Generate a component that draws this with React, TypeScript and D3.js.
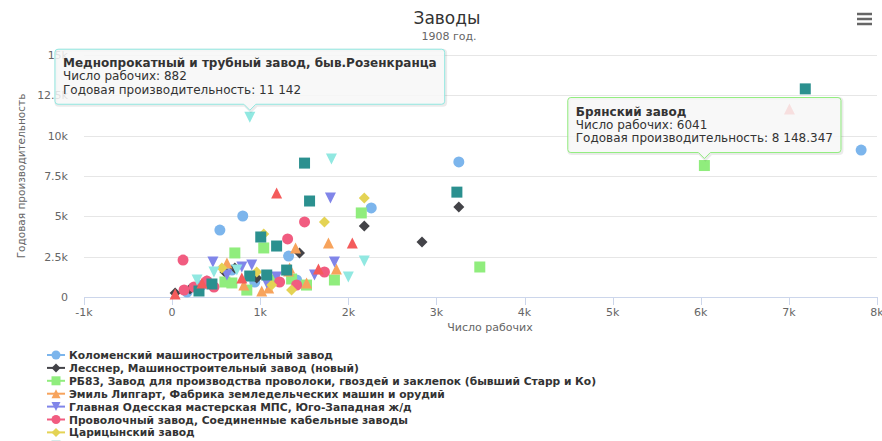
import React, { useEffect, useRef } from 'react';
import * as d3 from 'd3';

// series names (legend shows them in this order)
const seriesNames = [
  'Коломенский машиностроительный завод',
  'Лесснер, Машиностроительный завод (новый)',
  'РБ83, Завод для производства проволоки, гвоздей и заклепок (бывший Старр и Ко)',
  'Эмиль Липгарт, Фабрика земледельческих машин и орудий',
  'Главная Одесская мастерская МПС, Юго-Западная ж/д',
  'Проволочный завод, Соединенные кабельные заводы',
  'Царицынский завод',
  '—',
  '—',
  'Меднопрокатный и трубный завод, быв.Розенкранца',
  'Брянский завод',
];

// [число рабочих, годовая производительность]
const kolomna: [number, number][] = [
  [802, 5020], [542, 4150], [2260, 5520], [1322, 2540], [3254, 8370],
  [7820, 9110], [678, 1670], [339, 744], [938, 930], [1413, 1054], [170, 310],
];
const lessner: [number, number][] = [
  [2181, 4400], [2836, 3410], [3254, 5580], [1446, 2730], [599, 1550],
  [34, 248], [395, 990], [960, 1180], [203, 500], [712, 1800],
];
const rb83: [number, number][] = [
  [2147, 5210], [1040, 3040], [712, 2730], [1842, 1054], [1356, 1116],
  [3492, 1860], [678, 870], [1153, 1054], [599, 930], [848, 430], [1525, 740],
];
const lipgart: [number, number][] = [
  [1774, 3350], [1401, 3040], [1322, 1610], [1864, 1735], [622, 2100],
  [1096, 560], [1334, 1800], [814, 744], [1017, 370], [1526, 870],
];
const odessa: [number, number][] = [
  [1797, 6140], [463, 2170], [1842, 2170], [791, 1860], [1616, 1364],
  [904, 1984], [622, 1364], [1187, 1240], [283, 434], [1074, 868],
];
const provolochny: [number, number][] = [
  [1503, 4650], [1311, 3600], [124, 2290], [1729, 1550], [1220, 930],
  [136, 434], [249, 620], [475, 620], [395, 990], [1413, 744],
];
const tsaritsyn: [number, number][] = [
  [2181, 6140], [1729, 4650], [1040, 3900], [565, 1800], [960, 1550],
  [1356, 430], [1130, 744],
];
const series8: [number, number][] = [
  [1503, 8300], [1560, 5950], [1006, 3720], [1186, 3160], [3232, 6500],
  [7186, 12900], [305, 372], [881, 1300], [1074, 1364], [452, 806], [1300, 1670],
];
const series9: [number, number][] = [
  [1186, 6450], [2045, 3350], [1661, 1735], [7006, 11660], [339, 870],
  [791, 1178], [34, 186],
];
const mednoprokatny: [number, number][] = [
  [882, 11142], [1808, 8560], [2181, 2230], [2000, 1240], [475, 1550],
  [283, 1054], [735, 1674],
];
const bryansk: [number, number][] = [[6041, 8148.347]];

const seriesData = [
  kolomna, lessner, rb83, lipgart, odessa, provolochny, tsaritsyn,
  series8, series9, mednoprokatny, bryansk,
];
// Highcharts series index (colour and symbol cycle from it)
const seriesSlots = [0, 1, 2, 3, 4, 5, 6, 7, 8, 9, 12];

const palette = [
  '#7cb5ec', '#434348', '#90ed7d', '#f7a35c', '#8085e9',
  '#f15c80', '#e4d354', '#2b908f', '#f45b5b', '#91e8e1',
];
const symbolNames = ['circle', 'diamond', 'square', 'triangle', 'triangle-down'];

const xTicks = [-1000, 0, 1000, 2000, 3000, 4000, 5000, 6000, 7000, 8000];
const yTicks = [0, 2500, 5000, 7500, 10000, 12500, 15000];

// tooltips shown: [series index, point index]
const shownTooltips: [number, number][] = [[9, 0], [10, 0]];

const FONT = '"DejaVu Sans", sans-serif';

function markerPath(sym: string, r: number) {
  switch (sym) {
    case 'circle':
      return `M${-r},0a${r},${r} 0 1,0 ${2 * r},0a${r},${r} 0 1,0 ${-2 * r},0Z`;
    case 'square':
      return `M${-r},${-r}h${2 * r}v${2 * r}h${-2 * r}Z`;
    case 'diamond':
      return `M0,${-r}L${r},0L0,${r}L${-r},0Z`;
    case 'triangle':
      return `M0,${-r}L${r},${r}L${-r},${r}Z`;
    default:
      return `M${-r},${-r}L${r},${-r}L0,${r}Z`;
  }
}

const kFormat = (v: number) => (v === 0 ? '0' : `${v / 1000}k`);
const numFormat = (v: number) => d3.format(',')(v).replace(/,/g, ' ');

const App: React.FC = () => {
  const svgRef = useRef<SVGSVGElement>(null);

  useEffect(() => {
    if (!svgRef.current) return;
    const svg = d3.select(svgRef.current);
    svg.selectAll('*').remove();

    const plot = { left: 84, right: 877, top: 55, bottom: 297 };
    const x = d3.scaleLinear().domain([-1000, 8000]).range([plot.left, plot.right]);
    const y = d3.scaleLinear().domain([0, 15000]).range([plot.bottom, plot.top]);

    // title
    svg.append('text')
      .attr('x', 447).attr('y', 24)
      .attr('text-anchor', 'middle')
      .style('font-family', FONT).style('font-size', '17px').style('fill', '#333')
      .text('Заводы');
    svg.append('text')
      .attr('x', 449).attr('y', 40)
      .attr('text-anchor', 'middle')
      .style('font-family', FONT).style('font-size', '11px').style('fill', '#666')
      .text('1908 год.');

    // menu button
    const menu = svg.append('g').attr('transform', 'translate(857, 13)');
    [0, 5, 10].forEach(dy => {
      menu.append('line')
        .attr('x1', 0).attr('x2', 15).attr('y1', dy + 1).attr('y2', dy + 1)
        .attr('stroke', '#666').attr('stroke-width', 2.5);
    });

    // grid
    yTicks.forEach(t => {
      svg.append('line')
        .attr('x1', plot.left).attr('x2', plot.right)
        .attr('y1', Math.round(y(t)) + 0.5).attr('y2', Math.round(y(t)) + 0.5)
        .attr('stroke', '#e6e6e6');
      svg.append('text')
        .attr('x', 68).attr('y', y(t) + 4)
        .attr('text-anchor', 'end')
        .style('font-family', FONT).style('font-size', '11px').style('fill', '#666')
        .text(kFormat(t));
    });

    // x axis
    svg.append('line')
      .attr('x1', plot.left).attr('x2', plot.right)
      .attr('y1', plot.bottom + 0.5).attr('y2', plot.bottom + 0.5)
      .attr('stroke', '#ccd6eb');
    xTicks.forEach(t => {
      svg.append('line')
        .attr('x1', Math.round(x(t)) + 0.5).attr('x2', Math.round(x(t)) + 0.5)
        .attr('y1', plot.bottom).attr('y2', plot.bottom + 8)
        .attr('stroke', '#ccd6eb');
      svg.append('text')
        .attr('x', x(t)).attr('y', 316)
        .attr('text-anchor', 'middle')
        .style('font-family', FONT).style('font-size', '11px').style('fill', '#666')
        .text(kFormat(t));
    });

    // axis titles
    svg.append('text')
      .attr('x', 490).attr('y', 331)
      .attr('text-anchor', 'middle')
      .style('font-family', FONT).style('font-size', '11px').style('fill', '#666')
      .text('Число рабочих');
    svg.append('text')
      .attr('transform', `translate(25, ${(plot.top + plot.bottom) / 2}) rotate(-90)`)
      .attr('text-anchor', 'middle')
      .style('font-family', FONT).style('font-size', '10.5px').style('fill', '#666')
      .text('Годовая производительность');

    // points
    const r = 5.5;
    seriesData.forEach((pts, i) => {
      const slot = seriesSlots[i];
      const color = palette[slot % palette.length];
      const sym = symbolNames[slot % symbolNames.length];
      const g = svg.append('g');
      pts.forEach(([vx, vy]) => {
        g.append('path')
          .attr('transform', `translate(${x(vx)}, ${y(vy)})`)
          .attr('d', markerPath(sym, r))
          .attr('fill', color);
      });
    });

    // legend
    seriesNames.forEach((name, i) => {
      const slot = seriesSlots[i];
      const color = palette[slot % palette.length];
      const sym = symbolNames[slot % symbolNames.length];
      const cy = 355 + i * 12.9;
      const g = svg.append('g');
      g.append('line')
        .attr('x1', 47).attr('x2', 65).attr('y1', cy).attr('y2', cy)
        .attr('stroke', color).attr('stroke-width', 2);
      g.append('path')
        .attr('transform', `translate(56, ${cy})`)
        .attr('d', markerPath(sym, 4.5))
        .attr('fill', color);
      g.append('text')
        .attr('x', 69).attr('y', cy + 4)
        .style('font-family', FONT).style('font-size', '10.7px')
        .style('font-weight', 'bold').style('fill', '#333')
        .text(name);
    });

    // tooltips
    shownTooltips.forEach(([si, pi]) => {
      const slot = seriesSlots[si];
      const color = palette[slot % palette.length];
      const [vx, vy] = seriesData[si][pi];
      const px = x(vx);
      const py = y(vy);
      const g = svg.append('g');
      const shadow = g.append('path');
      const box = g.append('path');
      const lines = [
        { t: seriesNames[si], bold: true },
        { t: `Число рабочих: ${vx}`, bold: false },
        { t: `Годовая производительность: ${numFormat(vy)}`, bold: false },
      ];
      const texts = lines.map(l =>
        g.append('text')
          .attr('y', 0)
          .style('font-family', FONT).style('font-size', '12px')
          .style('font-weight', l.bold ? 'bold' : 'normal')
          .style('fill', '#333')
          .text(l.t)
      );
      const w = Math.max(...texts.map(t => (t.node() as SVGTextElement).getComputedTextLength())) + 16;
      const h = 55;
      const bx = px - w / 2;
      const bottom = py - 13;
      const top = bottom - h;
      texts.forEach((t, k) => t.attr('x', bx + 8).attr('y', top + 18 + k * 13.2));
      const rr = 3;
      const a = 6;
      const d = `M${bx + rr},${top}H${bx + w - rr}Q${bx + w},${top} ${bx + w},${top + rr}` +
        `V${bottom - rr}Q${bx + w},${bottom} ${bx + w - rr},${bottom}` +
        `H${px + a}L${px},${bottom + a}L${px - a},${bottom}` +
        `H${bx + rr}Q${bx},${bottom} ${bx},${bottom - rr}V${top + rr}Q${bx},${top} ${bx + rr},${top}Z`;
      shadow.attr('d', d).attr('transform', 'translate(1,1)')
        .attr('fill', 'none').attr('stroke', 'rgba(0,0,0,0.08)').attr('stroke-width', 3);
      box.attr('d', d).attr('fill', 'rgba(247,247,247,0.85)')
        .attr('stroke', color).attr('stroke-width', 1);
    });
  }, []);

  return (
    <svg
      ref={svgRef}
      width={882}
      height={441}
      style={{ position: 'absolute', left: 0, top: 0, background: '#fff' }}
    />
  );
};

export default App;
